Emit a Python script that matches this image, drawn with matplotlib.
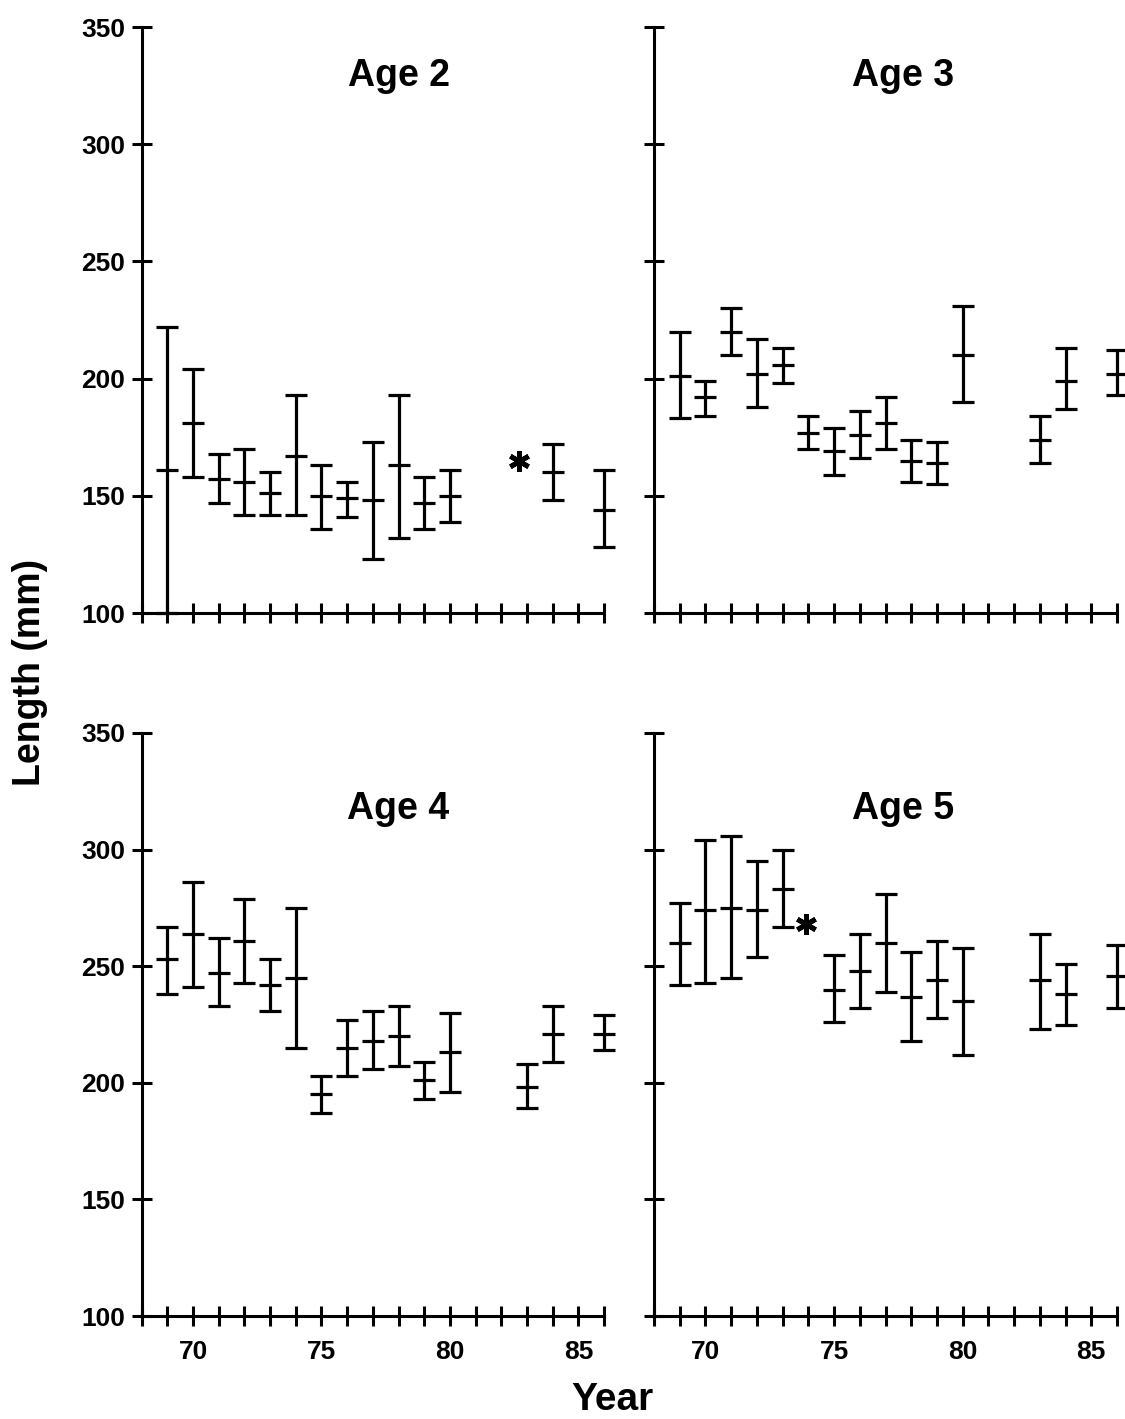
import matplotlib
matplotlib.use('Agg')
import matplotlib.pyplot as plt

plt.rcParams['font.family'] = ['Liberation Sans', 'DejaVu Sans']
plt.rcParams['font.weight'] = 'bold'

years = [69, 70, 71, 72, 73, 74, 75, 76, 77, 78, 79, 80, 83, 84, 86]
years_age2 = [69, 70, 71, 72, 73, 74, 75, 76, 77, 78, 79, 80, 84, 86]
years_age5 = [69, 70, 71, 72, 73, 75, 76, 77, 78, 79, 80, 83, 84, 86]

# Age 2
mean2 = [161, 181, 157, 156, 151, 167, 150, 149, 148, 163, 147, 150, 160, 144]
low2 = [100, 158, 147, 142, 142, 142, 136, 141, 123, 132, 136, 139, 148, 128]
high2 = [222, 204, 168, 170, 160, 193, 163, 156, 173, 193, 158, 161, 172, 161]

# Age 3
mean3 = [201, 192, 220, 202, 206, 177, 169, 176, 181, 165, 164, 210, 174, 199, 202]
low3 = [183, 184, 210, 188, 198, 170, 159, 166, 170, 156, 155, 190, 164, 187, 193]
high3 = [220, 199, 230, 217, 213, 184, 179, 186, 192, 174, 173, 231, 184, 213, 212]

# Age 4
mean4 = [253, 264, 247, 261, 242, 245, 195, 215, 218, 220, 201, 213, 198, 221, 221]
low4 = [238, 241, 233, 243, 231, 215, 187, 203, 206, 207, 193, 196, 189, 209, 214]
high4 = [267, 286, 262, 279, 253, 275, 203, 227, 231, 233, 209, 230, 208, 233, 229]

# Age 5
mean5 = [260, 274, 275, 274, 283, 240, 248, 260, 237, 244, 235, 244, 238, 246]
low5 = [242, 243, 245, 254, 267, 226, 232, 239, 218, 228, 212, 223, 225, 232]
high5 = [277, 304, 306, 295, 300, 255, 264, 281, 256, 261, 258, 264, 251, 259]

# asterisks
star2 = (82.7, 165)
star5 = (73.9, 268)

panels = [
    ('Age 2', years_age2, mean2, low2, high2, star2),
    ('Age 3', years, mean3, low3, high3, None),
    ('Age 4', years, mean4, low4, high4, None),
    ('Age 5', years_age5, mean5, low5, high5, star5),
]

fig = plt.figure(figsize=(11.25, 14.19), dpi=100)
W, H = 1125, 1419
boxes = [(141.7, 27, 604, 613), (654, 27, 1117, 613),
         (141.7, 733, 604, 1316), (654, 733, 1117, 1316)]

for i, (title, xs, m, lo, hi, star) in enumerate(panels):
    x0, y0, x1, y1 = boxes[i]
    ax = fig.add_axes([x0 / W, 1 - y1 / H, (x1 - x0) / W, (y1 - y0) / H])
    ax.set_xlim(68, 86)
    ax.set_ylim(100, 350)
    for s in ['top', 'right']:
        ax.spines[s].set_visible(False)
    for s in ['left', 'bottom']:
        ax.spines[s].set_linewidth(2.2)
    ax.patch.set_alpha(0)

    err = [[a - b for a, b in zip(m, lo)], [c - a for a, c in zip(m, hi)]]
    ax.errorbar(xs, m, yerr=err, fmt='none', ecolor='black', elinewidth=2.3,
                capsize=8, capthick=2.3, clip_on=False)
    ax.plot(xs, m, linestyle='none', marker='_', markersize=16,
            markeredgewidth=2.3, color='black', clip_on=False)
    if star is not None:
        ax.plot(star[0], star[1], linestyle='none', marker=(6, 2, 0),
                markersize=15, markeredgewidth=3.5, color='black')

    ax.text(78.0 if i % 2 == 0 else 77.7, 329 if i < 2 else 317.5, title,
            fontsize=27, ha='center', va='center', fontweight='bold')

    ax.set_xticks(range(68, 87))
    ax.set_yticks([100, 150, 200, 250, 300, 350])
    ax.tick_params(axis='both', direction='inout', length=14, width=2.2,
                   labelsize=19)
    ax.tick_params(axis='y', pad=5)
    ax.tick_params(axis='x', pad=10)
    if i >= 2:
        ax.set_xticklabels(['70' if y == 70 else '75' if y == 75 else
                            '80' if y == 80 else '85' if y == 85 else ''
                            for y in range(68, 87)])
    else:
        ax.set_xticklabels([])
    if i % 2 == 1:
        ax.set_yticklabels([])
    for lab in ax.get_xticklabels() + ax.get_yticklabels():
        lab.set_fontweight('bold')

fig.text(30 / W, 1 - 672 / H, 'Length (mm)', rotation=90, fontsize=27,
         ha='center', va='center', fontweight='bold')
fig.text(612 / W, 1 - 1400 / H, 'Year', fontsize=28, ha='center',
         va='center', fontweight='bold')

fig.savefig('out.png', dpi=100)
